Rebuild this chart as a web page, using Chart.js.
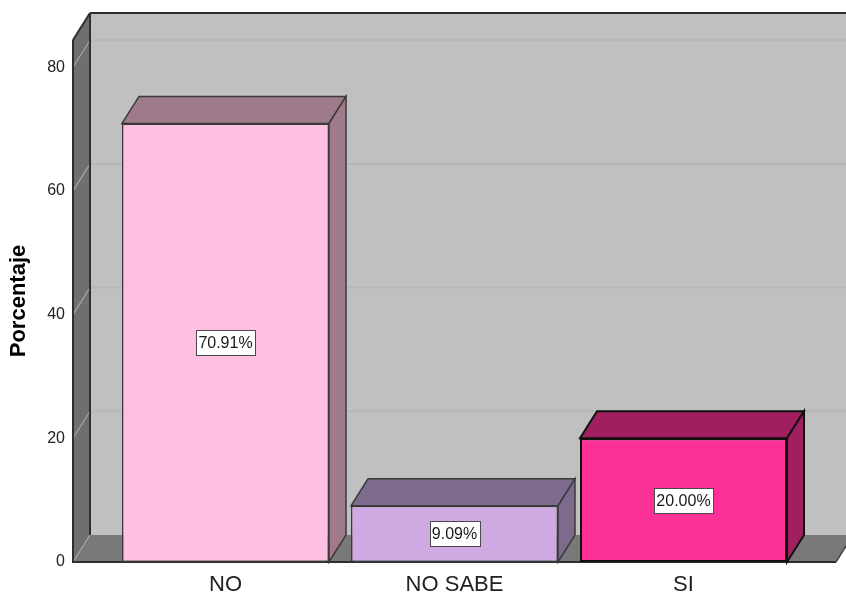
<!DOCTYPE html>
<html>
<head>
<meta charset="utf-8">
<script src="https://cdn.jsdelivr.net/npm/chart.js@4/dist/chart.umd.min.js"></script>
<style>
  html, body { margin: 0; padding: 0; background: #fff; }
  canvas { display: block; }
</style>
</head>
<body>
<canvas id="bar-chart" width="846" height="599"></canvas>
<script>
const categories = ['NO', 'NO SABE', 'SI'];
const percentages = [70.91, 9.09, 20.00];
const yTicks = [0, 20, 40, 60, 80];

const frontColors = ['#fdc0e0', '#cfa9e2', '#fc3196'];
const shadeColors = ['#9e7a8a', '#7e6a8c', '#a21f5f'];
const edgeColors = ['#3a3a3a', '#3a3a3a', '#111111'];
const edgeWidths = [1.5, 1.5, 2];

// depth of the 3d box (pixels right / up)
const DX = 17, DY = 27;

function poly(ctx, pts, fill, stroke, lw) {
    ctx.beginPath();
    ctx.moveTo(pts[0][0], pts[0][1]);
    for (let i = 1; i < pts.length; i++) ctx.lineTo(pts[i][0], pts[i][1]);
    ctx.closePath();
    if (fill) { ctx.fillStyle = fill; ctx.fill(); }
    if (stroke) { ctx.strokeStyle = stroke; ctx.lineWidth = lw || 1; ctx.stroke(); }
}

function line(ctx, x1, y1, x2, y2, color, lw) {
    ctx.beginPath();
    ctx.moveTo(x1, y1);
    ctx.lineTo(x2, y2);
    ctx.strokeStyle = color;
    ctx.lineWidth = lw;
    ctx.stroke();
}

const boxPlugin = {
    id: 'box3d',
    beforeDatasetsDraw(chart) {
        const { ctx, chartArea: a, scales: { y } } = chart;
        ctx.save();
        // back wall
        ctx.fillStyle = '#c0c0c0';
        ctx.fillRect(a.left + DX, a.top - DY, a.right - a.left, a.bottom - a.top);
        // left wall and floor
        poly(ctx, [[a.left, a.top], [a.left + DX, a.top - DY], [a.left + DX, a.bottom - DY], [a.left, a.bottom]], '#6f6f6f');
        poly(ctx, [[a.left, a.bottom], [a.left + DX, a.bottom - DY], [a.right + DX, a.bottom - DY], [a.right, a.bottom]], '#797979');

        // grid lines: diagonal on the side wall, flat on the back wall
        y.ticks.forEach(t => {
            const py = y.getPixelForValue(t.value);
            line(ctx, a.left, py, a.left + DX, py - DY, '#a6a6a6', 1.2);
            if (t.value !== 0) line(ctx, a.left + DX, py - DY, a.right + DX, py - DY, '#b6b6b6', 2);
        });

        // box edges
        const dark = '#2e2e2e';
        line(ctx, a.left, a.top, a.left, a.bottom + 1, dark, 2);
        line(ctx, a.left, a.top, a.left + DX, a.top - DY, dark, 2);
        line(ctx, a.left + DX, a.top - DY, a.right + DX + 2, a.top - DY, dark, 2);
        line(ctx, a.left + DX, a.top - DY, a.left + DX, a.bottom - DY, dark, 2);
        line(ctx, a.left, a.bottom, a.right, a.bottom, dark, 2);
        line(ctx, a.right, a.bottom, a.right + DX, a.bottom - DY, '#444', 1.5);

        // top and side faces of each bar
        const meta = chart.getDatasetMeta(0);
        meta.data.forEach((bar, i) => {
            const l = bar.x - bar.width / 2, r = bar.x + bar.width / 2;
            poly(ctx, [[l, bar.y], [l + DX, bar.y - DY], [r + DX, bar.y - DY], [r, bar.y]],
                shadeColors[i], edgeColors[i], edgeWidths[i]);
            poly(ctx, [[r, bar.y], [r + DX, bar.y - DY], [r + DX, bar.base - DY], [r, bar.base]],
                shadeColors[i], edgeColors[i], edgeWidths[i]);
        });
        ctx.restore();
    },
    afterDatasetsDraw(chart) {
        const { ctx, scales: { y } } = chart;
        const meta = chart.getDatasetMeta(0);
        ctx.save();
        ctx.font = "16px 'Liberation Sans', Arial, sans-serif";
        ctx.textAlign = 'center';
        ctx.textBaseline = 'middle';
        meta.data.forEach((bar, i) => {
            const text = percentages[i].toFixed(2) + '%';
            const cy = y.getPixelForValue(percentages[i] / 2);
            const w = Math.round(ctx.measureText(text).width + 5);
            const h = 25;
            const bx = Math.round(bar.x - w / 2) + 0.5, by = Math.round(cy - h / 2) + 0.5;
            ctx.fillStyle = '#ffffff';
            ctx.fillRect(bx, by, w, h);
            ctx.strokeStyle = '#4a4a4a';
            ctx.lineWidth = 1;
            ctx.strokeRect(bx, by, w, h);
            ctx.fillStyle = '#1a1a1a';
            ctx.fillText(text, bar.x, cy + 1);
        });
        ctx.restore();
    }
};

Chart.defaults.font.family = "'Liberation Sans', Arial, sans-serif";
Chart.defaults.color = '#222';

new Chart(document.getElementById('bar-chart'), {
    type: 'bar',
    data: {
        datasets: [{
            label: 'Porcentaje',
            data: percentages.map((v, i) => ({ x: i, y: v })),
            backgroundColor: frontColors,
            borderColor: edgeColors,
            borderWidth: edgeWidths,
            borderSkipped: false,
            barPercentage: 0.904,
            categoryPercentage: 1
        }]
    },
    options: {
        responsive: false,
        animation: false,
        layout: { padding: { top: 40, right: 10, left: 0, bottom: 0 } },
        plugins: {
            legend: { display: false },
            tooltip: { enabled: false }
        },
        scales: {
            x: {
                type: 'linear',
                offset: false,
                bounds: 'data',
                min: -0.666,
                max: categories.length - 1 + 0.666,
                grid: { display: false, drawTicks: false },
                border: { display: false },
                afterBuildTicks: s => { s.ticks = categories.map((c, i) => ({ value: i })); },
                afterFit: s => { s.height = 37; },
                ticks: {
                    padding: 10,
                    autoSkip: false,
                    maxRotation: 0,
                    color: '#222',
                    font: { size: 22 },
                    callback: v => categories[v]
                }
            },
            y: {
                min: 0,
                max: 84.4,
                grid: { display: false, drawTicks: false },
                border: { display: false },
                afterBuildTicks: s => { s.ticks = yTicks.map(v => ({ value: v })); },
                afterFit: s => { s.width = 73; },
                ticks: { padding: 8, font: { size: 16 }, color: '#222' },
                title: {
                    display: true,
                    text: 'Porcentaje',
                    color: '#000',
                    padding: { top: 6, bottom: 0 },
                    font: { size: 22, weight: 'bold' }
                }
            }
        }
    },
    plugins: [boxPlugin]
});
</script>
</body>
</html>
